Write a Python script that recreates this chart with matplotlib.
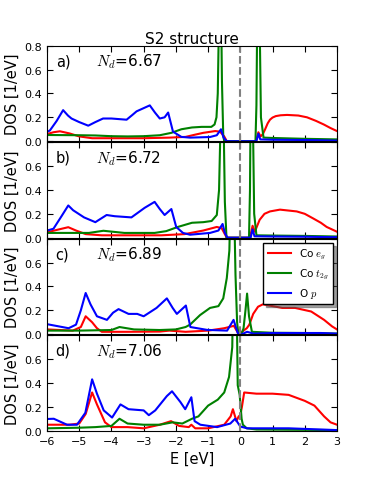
import matplotlib
matplotlib.use("Agg")
import matplotlib.pyplot as plt
import numpy as np

plt.rcParams['mathtext.fontset'] = 'cm'
plt.rcParams['font.family'] = ['DejaVu Sans']

# (E, DOS) points, one list per curve and panel
eg_a = [(-6.0, 0.06), (-5.8, 0.075), (-5.6, 0.083), (-5.3, 0.065), (-5.0, 0.04), (-4.6, 0.025),
        (-4.0, 0.025), (-3.0, 0.025), (-2.2, 0.03), (-1.7, 0.036), (-1.4, 0.055), (-1.15, 0.07),
        (-0.78, 0.085), (-0.63, 0.08), (-0.5, 0.04), (-0.42, 0.0), (0.48, 0.0), (0.52, 0.03),
        (0.56, 0.075), (0.63, 0.04), (0.7, 0.06), (0.77, 0.1), (0.85, 0.15), (0.92, 0.18),
        (1.0, 0.198), (1.1, 0.21), (1.25, 0.217), (1.45, 0.22), (1.8, 0.215), (2.07, 0.2),
        (2.35, 0.17), (2.59, 0.14), (2.8, 0.11), (3.0, 0.085)]
t2g_a = [(-6.0, 0.052), (-5.0, 0.05), (-4.5, 0.048), (-4.0, 0.042), (-3.5, 0.04), (-3.0, 0.042),
         (-2.5, 0.05), (-2.14, 0.07), (-1.83, 0.1), (-1.5, 0.115), (-1.2, 0.12), (-0.9, 0.12),
         (-0.8, 0.14), (-0.74, 0.2), (-0.7, 0.4), (-0.67, 0.9), (-0.64, 2.0), (-0.6, 1.2),
         (-0.57, 0.5), (-0.53, 0.05), (-0.5, 0.0), (0.47, 0.0), (0.5, 0.3), (0.53, 1.2),
         (0.56, 2.0), (0.6, 1.0), (0.64, 0.2), (0.72, 0.03), (1.0, 0.027), (2.0, 0.02), (3.0, 0.015)]
p_a = [(-6.06, 0.07), (-5.91, 0.09), (-5.7, 0.17), (-5.5, 0.26), (-5.35, 0.215), (-5.24, 0.19),
       (-5.0, 0.16), (-4.72, 0.13), (-4.5, 0.16), (-4.26, 0.19), (-4.0, 0.19), (-3.53, 0.18),
       (-3.35, 0.22), (-3.22, 0.25), (-2.81, 0.30), (-2.65, 0.24), (-2.5, 0.19), (-2.35, 0.2),
       (-2.24, 0.24), (-2.09, 0.08), (-1.83, 0.036), (-1.56, 0.03), (-0.94, 0.035), (-0.73, 0.05),
       (-0.6, 0.10), (-0.52, 0.03), (-0.42, 0.0), (0.5, 0.0), (0.56, 0.063), (0.62, 0.015),
       (1.0, 0.012), (2.0, 0.01), (3.0, 0.005)]

eg_b = [(-6.0, 0.045), (-5.7, 0.065), (-5.34, 0.088), (-5.1, 0.06), (-4.8, 0.03), (-4.3, 0.02),
        (-3.5, 0.02), (-2.45, 0.02), (-1.73, 0.03), (-1.15, 0.06), (-0.73, 0.09), (-0.58, 0.08),
        (-0.5, 0.04), (-0.42, 0.0), (0.3, 0.0), (0.34, 0.05), (0.38, 0.1), (0.45, 0.05),
        (0.6, 0.15), (0.75, 0.2), (0.92, 0.22), (1.23, 0.235), (1.75, 0.22), (2.0, 0.2),
        (2.27, 0.16), (2.5, 0.125), (2.68, 0.09), (2.96, 0.055), (3.0, 0.05)]
t2g_b = [(-6.0, 0.04), (-4.7, 0.04), (-4.25, 0.058), (-3.6, 0.04), (-2.66, 0.04), (-2.3, 0.055),
         (-1.94, 0.09), (-1.5, 0.125), (-1.15, 0.13), (-0.89, 0.14), (-0.73, 0.19), (-0.66, 0.4),
         (-0.61, 1.0), (-0.56, 2.0), (-0.52, 1.0), (-0.48, 0.3), (-0.43, 0.0), (0.27, 0.0),
         (0.3, 0.4), (0.33, 1.5), (0.36, 2.0), (0.39, 1.0), (0.43, 0.2), (0.5, 0.02),
         (1.0, 0.018), (2.0, 0.015), (3.0, 0.01)]
p_b = [(-6.06, 0.055), (-5.8, 0.075), (-5.55, 0.18), (-5.34, 0.27), (-5.19, 0.23), (-4.85, 0.17),
       (-4.5, 0.13), (-4.15, 0.19), (-3.9, 0.18), (-3.38, 0.17), (-2.97, 0.25), (-2.66, 0.30),
       (-2.5, 0.24), (-2.35, 0.19), (-2.14, 0.24), (-1.99, 0.09), (-1.78, 0.04), (-1.56, 0.025),
       (-0.94, 0.04), (-0.68, 0.06), (-0.55, 0.115), (-0.48, 0.04), (-0.4, 0.0), (0.32, 0.0),
       (0.38, 0.07), (0.44, 0.012), (1.0, 0.01), (2.0, 0.008), (3.0, 0.004)]

eg_c = [(-6.0, 0.04), (-5.2, 0.03), (-4.95, 0.06), (-4.8, 0.15), (-4.6, 0.1), (-4.45, 0.05),
        (-4.3, 0.02), (-3.5, 0.02), (-2.5, 0.022), (-2.2, 0.03), (-1.7, 0.02), (-1.0, 0.03),
        (-0.5, 0.05), (-0.2, 0.07), (-0.05, 0.0), (0.05, 0.02), (0.2, 0.05), (0.28, 0.08),
        (0.4, 0.17), (0.55, 0.23), (0.7, 0.25), (1.0, 0.235), (1.3, 0.22), (1.7, 0.22),
        (2.2, 0.19), (2.6, 0.12), (2.85, 0.065), (3.0, 0.04)]
t2g_c = [(-6.0, 0.03), (-5.0, 0.03), (-4.0, 0.035), (-3.75, 0.06), (-3.3, 0.04), (-2.5, 0.035),
         (-2.0, 0.04), (-1.7, 0.06), (-1.56, 0.08), (-1.25, 0.16), (-0.94, 0.22), (-0.68, 0.235),
         (-0.53, 0.3), (-0.42, 0.47), (-0.34, 0.7), (-0.3, 1.2), (-0.25, 2.0), (-0.2, 1.2),
         (-0.15, 0.5), (-0.1, 0.1), (-0.06, 0.0), (0.04, 0.0), (0.1, 0.05), (0.16, 0.2),
         (0.21, 0.34), (0.27, 0.15), (0.36, 0.02), (1.0, 0.012), (2.0, 0.01), (3.0, 0.005)]
p_c = [(-6.0, 0.084), (-5.33, 0.05), (-5.1, 0.08), (-4.95, 0.2), (-4.8, 0.345), (-4.65, 0.25),
       (-4.45, 0.15), (-4.14, 0.12), (-3.95, 0.18), (-3.78, 0.21), (-3.47, 0.17), (-3.2, 0.17),
       (-3.0, 0.15), (-2.6, 0.22), (-2.28, 0.30), (-2.1, 0.22), (-1.97, 0.17), (-1.69, 0.24),
       (-1.55, 0.06), (-1.03, 0.036), (-0.41, 0.03), (-0.21, 0.12), (-0.08, 0.01), (0.05, 0.0),
       (0.21, 0.02), (0.41, 0.005), (1.0, 0.01), (2.5, 0.01), (3.0, 0.005)]

eg_d = [(-6.0, 0.05), (-5.3, 0.05), (-5.0, 0.06), (-4.8, 0.14), (-4.6, 0.32), (-4.45, 0.22),
        (-4.2, 0.07), (-4.0, 0.03), (-3.5, 0.03), (-3.0, 0.02), (-2.5, 0.05), (-2.15, 0.08),
        (-1.9, 0.04), (-1.6, 0.03), (-1.52, 0.05), (-1.4, 0.02), (-1.0, 0.02), (-0.5, 0.05),
        (-0.3, 0.12), (-0.23, 0.18), (-0.12, 0.08), (-0.05, 0.12), (0.0, 0.13), (0.05, 0.2),
        (0.12, 0.32), (0.5, 0.31), (1.0, 0.31), (1.5, 0.30), (2.0, 0.25), (2.3, 0.21),
        (2.6, 0.12), (2.8, 0.07), (3.0, 0.05)]
t2g_d = [(-6.0, 0.02), (-5.0, 0.025), (-4.5, 0.03), (-4.0, 0.04), (-3.75, 0.10), (-3.5, 0.06),
         (-3.0, 0.05), (-2.5, 0.05), (-2.1, 0.07), (-1.8, 0.06), (-1.5, 0.10), (-1.3, 0.12),
         (-1.0, 0.21), (-0.7, 0.26), (-0.5, 0.32), (-0.35, 0.45), (-0.25, 0.7), (-0.18, 2.0),
         (-0.12, 1.2), (-0.08, 0.38), (-0.02, 0.3), (0.04, 0.1), (0.08, 0.05), (0.2, 0.02),
         (0.5, 0.01), (3.0, 0.005)]
p_d = [(-6.0, 0.098), (-5.79, 0.1), (-5.38, 0.05), (-5.07, 0.05), (-4.81, 0.15), (-4.6, 0.43),
       (-4.45, 0.31), (-4.24, 0.17), (-3.98, 0.11), (-3.72, 0.22), (-3.47, 0.18), (-3.0, 0.17),
       (-2.84, 0.13), (-2.64, 0.17), (-2.28, 0.29), (-2.12, 0.33), (-1.86, 0.24), (-1.71, 0.18),
       (-1.52, 0.28), (-1.42, 0.08), (-1.24, 0.05), (-0.72, 0.03), (-0.31, 0.06), (-0.16, 0.1),
       (0.0, 0.035), (0.21, 0.02), (1.5, 0.02), (2.0, 0.015), (3.0, 0.005)]

panel_tags = ['a)', 'b)', 'c)', 'd)']
nd_values = ['6.67', '6.72', '6.89', '7.06']
eg_curves = [eg_a, eg_b, eg_c, eg_d]
t2g_curves = [t2g_a, t2g_b, t2g_c, t2g_d]
p_curves = [p_a, p_b, p_c, p_d]
legend_labels = ['Co $e_g$', 'Co $t_{2g}$', 'O $p$']

fig = plt.figure(figsize=(3.74, 4.81), dpi=100)
gs = fig.add_gridspec(4, 1, left=0.1257, right=0.901, top=0.903, bottom=0.1025, hspace=0.01)

axes = []
for i in range(4):
    ax = fig.add_subplot(gs[i])
    axes.append(ax)
    for pts, col, lab in zip([eg_curves[i], t2g_curves[i], p_curves[i]],
                             ['red', 'green', 'blue'], legend_labels):
        arr = np.array(pts)
        ax.plot(arr[:, 0], arr[:, 1], color=col, lw=1.5, label=lab)
    ax.axvline(0, color='gray', ls='--', lw=1.5)

    ax.set_xlim(-6, 3)
    ax.set_ylim(0, 0.8)
    ax.set_xticks(np.arange(-6, 4, 1))
    ax.set_yticks(np.arange(0, 0.81, 0.2))
    ax.tick_params(direction='in', top=True, right=True, labelsize=8, length=4)
    if i > 0:
        ax.set_yticklabels(['0.0', '0.2', '0.4', '0.6', ''])
    if i < 3:
        ax.set_xticklabels([])
    ax.set_ylabel('DOS [1/eV]', fontsize=10.5, labelpad=3)

    ax.text(0.03, 0.84, panel_tags[i], transform=ax.transAxes, fontsize=10.5, va='center')
    ax.text(0.17, 0.84, '$N_d$=' + nd_values[i], transform=ax.transAxes, fontsize=11, va='center')

axes[0].set_title('S2 structure', fontsize=11, pad=2)
axes[3].set_xlabel('E [eV]', fontsize=10.5)
axes[2].legend(loc='upper right', fontsize=7.5, fancybox=False, shadow=True,
               framealpha=1, edgecolor='black', handlelength=2.2, borderaxespad=0.4)

fig.savefig('out.png', dpi=100)
